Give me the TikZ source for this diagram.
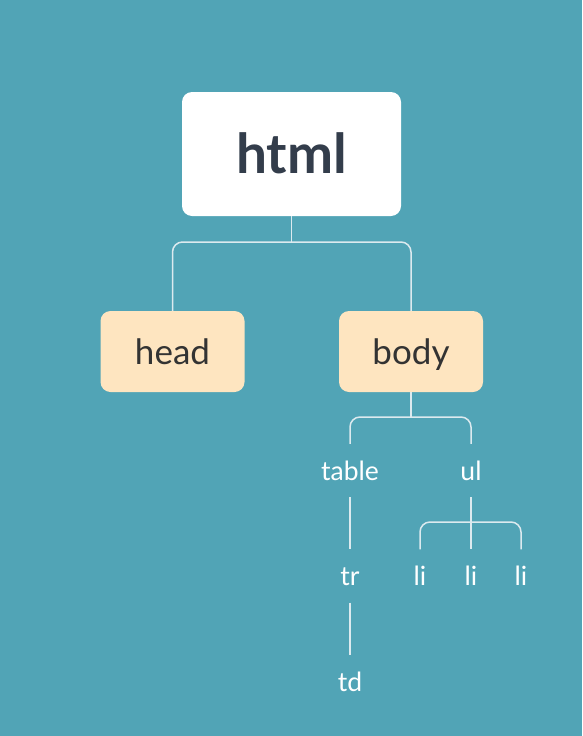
\documentclass[tikz,border=0pt]{standalone}
\usepackage{fontspec}
\setmainfont{Lato}
\definecolor{bg}{HTML}{51A4B6}
\definecolor{conn}{HTML}{DCEAEF}
\definecolor{peach}{HTML}{FEE5C0}
\definecolor{ink}{HTML}{333D4B}
\definecolor{ink2}{HTML}{333333}
\tikzset{
  conn/.style={draw=conn, line width=1.5pt, rounded corners=10pt},
  rootbox/.style={fill=white, rounded corners=10pt, minimum width=219pt, minimum height=124pt, inner sep=0pt, text=ink, text height=39.5pt, text depth=0pt, font=\fontsize{55}{55}\selectfont\bfseries},
  childbox/.style={fill=peach, rounded corners=10pt, minimum width=144pt, minimum height=81pt, inner sep=0pt, text=ink2, text height=25pt, text depth=0pt, font=\fontsize{35}{35}\selectfont},
  leaf/.style={text=white, inner sep=0pt, minimum height=53pt, text height=19pt, text depth=0pt, font=\fontsize{26.5}{26.5}\selectfont},
}
\begin{document}
\begin{tikzpicture}[x=1pt,y=-1pt]
\fill[bg] (0,0) rectangle (582,736);
\useasboundingbox (0,0) rectangle (582,736);
\node[rootbox] (html) at (291.5,154) {html};
\node[childbox] (head) at (172.5,351.5) {head};
\node[childbox] (body) at (411,351.5) {body};
\coordinate (j1) at (291.5,242);
\draw[conn] (html.south) -- (j1);
\draw[conn] (head.north) -- (head.north |- j1) -- (body.north |- j1) -- (body.north);

\node[leaf] (table) at (350,470.5) {table};
\node[leaf] (ul) at (471,470.5) {ul};
\coordinate (j2) at (411,417);
\draw[conn] (body.south) -- (j2);
\draw[conn] (table.north) -- (table.north |- j2) -- (ul.north |- j2) -- (ul.north);

\node[leaf] (tr) at (350,576) {tr};
\node[leaf] (td) at (350,681.5) {td};
\draw[conn] (table.south) -- (tr.north);
\draw[conn] (tr.south) -- (td.north);

\node[leaf] (li1) at (420,576) {li};
\node[leaf] (li2) at (471,576) {li};
\node[leaf] (li3) at (521,576) {li};
\coordinate (j3) at (471,522);
\draw[conn] (ul.south) -- (li2.north);
\draw[conn] (li1.north) -- (li1.north |- j3) -- (li3.north |- j3) -- (li3.north);
\end{tikzpicture}
\end{document}
